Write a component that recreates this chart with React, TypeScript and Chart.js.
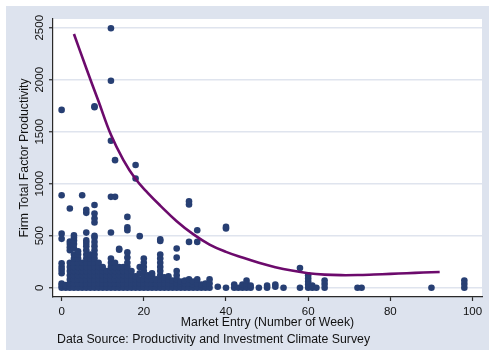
import React, { useEffect, useRef } from 'react';
import { Chart, registerables } from 'chart.js';

Chart.register(...registerables);

const xTicks = [0, 20, 40, 60, 80, 100];
const yTicks = [0, 500, 1000, 1500, 2000, 2500];

// fitted curve
const fitWeeks = [3, 6, 9, 12, 15, 18, 21, 24, 28, 32, 36, 40, 44, 48, 52, 56, 60, 64, 68, 72, 76, 80, 84, 88, 92];
const fitTfp = [2440, 2110, 1790, 1470, 1230, 1045, 910, 790, 640, 515, 415, 345, 290, 240, 198, 165, 140, 126, 121, 122, 127, 133, 140, 146, 152];

// firm observations: [market entry weeks, list of TFP values]
const firmColumns: [number, number[]][] = [
  [0, [0, 20, 40, 140, 170, 200, 235, 470, 520, 890, 1710]],
  [1, [0, 25]],
  [2, [0, 40, 80, 120, 160, 200, 240, 360, 390, 420, 445, 762]],
  [3, [0, 40, 80, 120, 160, 200, 240, 280, 320, 380, 420, 455, 480, 505]],
  [4, [0, 40, 80, 120, 160, 200, 240, 280, 320, 350]],
  [5, [0, 40, 80, 120, 160, 200, 240, 890]],
  [6, [0, 40, 80, 120, 160, 200, 240, 280, 320, 360, 400, 430, 455, 530, 720, 750]],
  [7, [0, 40, 80, 120, 160, 200, 240, 280, 320]],
  [8, [0, 40, 80, 120, 160, 200, 240, 280, 320, 360, 400, 440, 480, 500, 627, 666, 714, 795, 1735, 1745]],
  [9, [0, 40, 80, 120, 160, 200, 240]],
  [10, [0, 40, 80, 120, 160, 200]],
  [11, [0, 40, 80, 120, 160]],
  [12, [0, 40, 80, 120, 160, 200, 240, 280, 531, 874, 1413, 1990, 2495]],
  [13, [0, 40, 80, 120, 160, 200, 240, 874, 1227]],
  [14, [0, 40, 80, 120, 160, 200, 365, 375]],
  [15, [0, 40, 80, 120, 160, 200]],
  [16, [0, 40, 80, 120, 160, 200, 240, 290, 340, 553, 580, 681]],
  [17, [0, 40, 80, 120, 160]],
  [18, [0, 40, 80, 110, 1051, 1180]],
  [19, [0, 40, 80, 140, 200, 496]],
  [20, [0, 40, 80, 120, 160, 200, 240, 280]],
  [21, [0, 40, 80, 120]],
  [22, [0, 40, 80, 120, 140]],
  [23, [0, 40, 80]],
  [24, [0, 40, 80, 120, 160, 200, 240, 280, 320, 450, 465]],
  [25, [0, 40, 80, 100]],
  [26, [0, 40, 80, 110]],
  [27, [0, 40, 70]],
  [28, [0, 40, 80, 120, 160, 290, 377]],
  [29, [0, 40, 60]],
  [30, [0, 40, 70]],
  [31, [0, 40, 80, 441, 800, 830]],
  [32, [0, 30, 60]],
  [33, [0, 40, 80, 441, 553]],
  [34, [0, 30]],
  [35, [0, 40]],
  [36, [0, 40, 80]],
  [38, [10]],
  [40, [0, 570, 585]],
  [42, [0, 30]],
  [43, [0]],
  [44, [0, 30]],
  [45, [0, 40, 70]],
  [46, [0, 20]],
  [48, [0]],
  [50, [0, 20]],
  [52, [10, 30]],
  [54, [0]],
  [58, [0, 190]],
  [60, [0, 30, 60, 90, 120]],
  [61, [0, 20]],
  [62, [0]],
  [64, [0, 35, 70]],
  [72, [0]],
  [73, [0]],
  [90, [0]],
  [98, [0, 35, 70]],
];

const xTitle = 'Market Entry (Number of Week)';
const yTitle = 'Firm Total Factor Productivity';
const caption = 'Data Source: Productivity and Investment Climate Survey';

const FONT = '"Liberation Sans", Arial, sans-serif';
const BG = '#dde3ee';
const GRID = '#dfe4ee';
const AXIS = '#2a2a2a';
const TEXT = '#111111';
const MARKER = '#273f73';
const CURVE = '#6c0a6c';
const TICK_SIZE = 11.5;
const TITLE_SIZE = 12.3;

export default function App() {
  const ref = useRef<HTMLCanvasElement>(null);

  useEffect(() => {
    document.body.style.margin = '0';
    const canvas = ref.current;
    if (!canvas) return;
    const points = firmColumns.flatMap(([x, ys]) => ys.map((y) => ({ x, y })));
    const fit = fitWeeks.map((x, i) => ({ x, y: fitTfp[i] }));

    const decor = {
      id: 'decor',
      beforeDraw(chart: any) {
        const { ctx, chartArea: a, width, height } = chart;
        ctx.save();
        ctx.fillStyle = '#ffffff';
        ctx.fillRect(0, 0, width, height);
        ctx.fillStyle = BG;
        ctx.fillRect(6, 6, width - 6, height - 6);
        ctx.fillStyle = '#ffffff';
        ctx.fillRect(a.left, a.top, a.right - a.left, a.bottom - a.top);
        ctx.restore();
      },
      afterDraw(chart: any) {
        const { ctx } = chart;
        const ys = chart.scales.y;
        ctx.save();
        ctx.fillStyle = TEXT;
        ctx.font = `${TICK_SIZE}px ${FONT}`;
        ctx.textAlign = 'center';
        ctx.textBaseline = 'middle';
        yTicks.forEach((v) => {
          const py = ys.getPixelForValue(v);
          ctx.save();
          ctx.translate(40, py);
          ctx.rotate(-Math.PI / 2);
          ctx.fillText(String(v), 0, 0);
          ctx.restore();
        });
        ctx.textAlign = 'left';
        ctx.font = `${TITLE_SIZE}px ${FONT}`;
        ctx.fillText(caption, 57, 340);
        ctx.restore();
      },
    };

    const chart = new Chart(canvas, {
      type: 'scatter',
      data: {
        datasets: [
          {
            type: 'line',
            data: fit,
            borderColor: CURVE,
            borderWidth: 2.6,
            pointRadius: 0,
            tension: 0.4,
            fill: false,
          } as any,
          {
            type: 'scatter',
            data: points,
            backgroundColor: MARKER,
            borderWidth: 0,
            pointRadius: 3.3,
          },
        ],
      },
      options: {
        animation: false,
        responsive: false,
        devicePixelRatio: 1,
        events: [],
        layout: { padding: { top: 19, right: 7, left: 0, bottom: 0 } },
        plugins: { legend: { display: false }, tooltip: { enabled: false } },
        scales: {
          x: {
            type: 'linear',
            min: -2.1,
            max: 102.3,
            afterBuildTicks: (s: any) => {
              s.ticks = xTicks.map((value) => ({ value }));
            },
            afterFit: (s: any) => {
              s.height = 53;
            },
            grid: {
              drawOnChartArea: false,
              drawTicks: true,
              tickLength: 4,
              tickColor: AXIS,
              tickWidth: 1.2,
            },
            border: { display: true, color: AXIS, width: 1.2 },
            ticks: {
              font: { family: FONT, size: TICK_SIZE },
              color: TEXT,
              padding: 3.8,
              maxRotation: 0,
              autoSkip: false,
            },
            title: {
              display: true,
              text: xTitle,
              font: { family: FONT, size: TITLE_SIZE },
              color: TEXT,
              padding: { top: 0, bottom: 19.6 },
            },
          },
          y: {
            type: 'linear',
            min: -89,
            max: 2584,
            afterBuildTicks: (s: any) => {
              s.ticks = yTicks.map((value) => ({ value }));
            },
            afterFit: (s: any) => {
              s.width = 53;
            },
            grid: {
              color: GRID,
              lineWidth: 1.5,
              drawTicks: true,
              tickLength: 4,
              tickColor: AXIS,
              tickWidth: 1.2,
            },
            border: { display: true, color: AXIS, width: 1.2 },
            ticks: { display: false },
            title: {
              display: true,
              text: yTitle,
              font: { family: FONT, size: TITLE_SIZE },
              color: TEXT,
              padding: { top: 17.6, bottom: 0 },
            },
          },
        },
      },
      plugins: [decor],
    });
    return () => chart.destroy();
  }, []);

  return (
    <div style={{ position: 'absolute', left: 0, top: 0, width: 489, height: 350 }}>
      <canvas ref={ref} width={489} height={350} style={{ display: 'block', width: 489, height: 350 }} />
    </div>
  );
}
